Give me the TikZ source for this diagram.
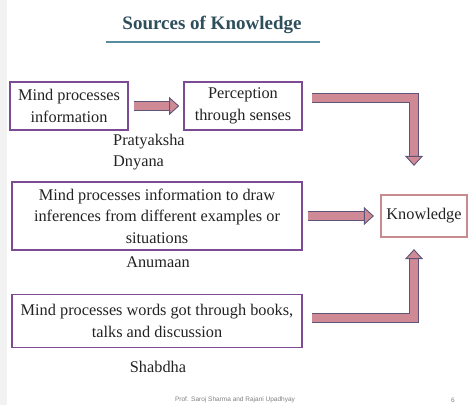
\documentclass[tikz,border=0pt]{standalone}
\usepackage{fontspec}
\setmainfont{Liberation Serif}
\newfontfamily\footfont{Liberation Sans}
\usetikzlibrary{arrows.meta}

\begin{document}
\begin{tikzpicture}[x=1pt, y=-1pt,
  box/.style={draw=boxcol, line width=1.6pt, align=center, inner sep=0pt, text=textcol, font=\fontsize{16.3}{21.5}\selectfont},
  lbl/.style={text=textcol, align=left, inner sep=0pt, font=\fontsize{16.3}{21}\selectfont},
  blockarrow/.style={draw=arrowline, line width=0.9pt, double=arrowfill, double distance=7.5pt, line join=miter,
    -{Triangle[length=10pt, width=18pt, fill=arrowfill]}}]
\definecolor{boxcol}{HTML}{7B4B94}
\definecolor{knowcol}{HTML}{C98A90}
\definecolor{arrowfill}{HTML}{D08A95}
\definecolor{arrowline}{HTML}{5E5479}
\definecolor{titlecol}{HTML}{2E4E5C}
\definecolor{rulecol}{HTML}{5B8BA0}
\definecolor{textcol}{HTML}{222222}
\useasboundingbox (0,0) rectangle (469,405);
\fill[gray!10] (0,0) rectangle (7,405);
% title
\node[text=titlecol, font=\bfseries\fontsize{19}{22}\selectfont] (title) at (212,25) {Sources of Knowledge};
\draw[rulecol, line width=1.5pt] (106,42) -- (320,42);
% boxes
\node[box, minimum width=118pt, minimum height=48pt] (mind) at (69,106) {Mind processes\\information};
\node[box, minimum width=118pt, minimum height=48pt] (percept) at (243,106) {Perception\\through senses};
\node[box, minimum width=290pt, minimum height=68pt] (infer) at (157,216) {Mind processes information to draw\\inferences from different examples or\\situations};
\node[box, minimum width=290pt, minimum height=53pt] (words) at (157,321) {Mind processes words got through books,\\talks and discussion};
\node[box, draw=knowcol, line width=2.2pt, minimum width=86pt, minimum height=42pt] (know) at (424,216) {Knowledge};
% labels
\node[lbl, anchor=west] (pratyaksha) at (113,152.5) {Pratyaksha\\Dnyana};
\node[lbl] (anumaan) at (158,262) {Anumaan};
\node[lbl] (shabdha) at (158,367) {Shabdha};
\node[text=gray, font=\footfont\fontsize{6.5}{8}\selectfont] (footer) at (235,400) {Prof. Saroj Sharma and Rajani Upadhyay};
\node[text=gray, font=\footfont\fontsize{6.5}{8}\selectfont] (page) at (453,400) {6};
% arrows
\draw[blockarrow, shorten <=5pt, shorten >=4pt] (mind.east) -- (percept.west);
\draw[blockarrow, shorten <=5pt, shorten >=6pt] (infer.east) -- (know.west);
\draw[blockarrow, shorten <=9pt, shorten >=28pt] ([yshift=8pt]percept.east) -| ([xshift=-10pt]know.north);
\draw[blockarrow, shorten <=9pt, shorten >=11pt] ([yshift=3pt]words.east) -| ([xshift=-10pt]know.south);
\end{tikzpicture}
\end{document}
